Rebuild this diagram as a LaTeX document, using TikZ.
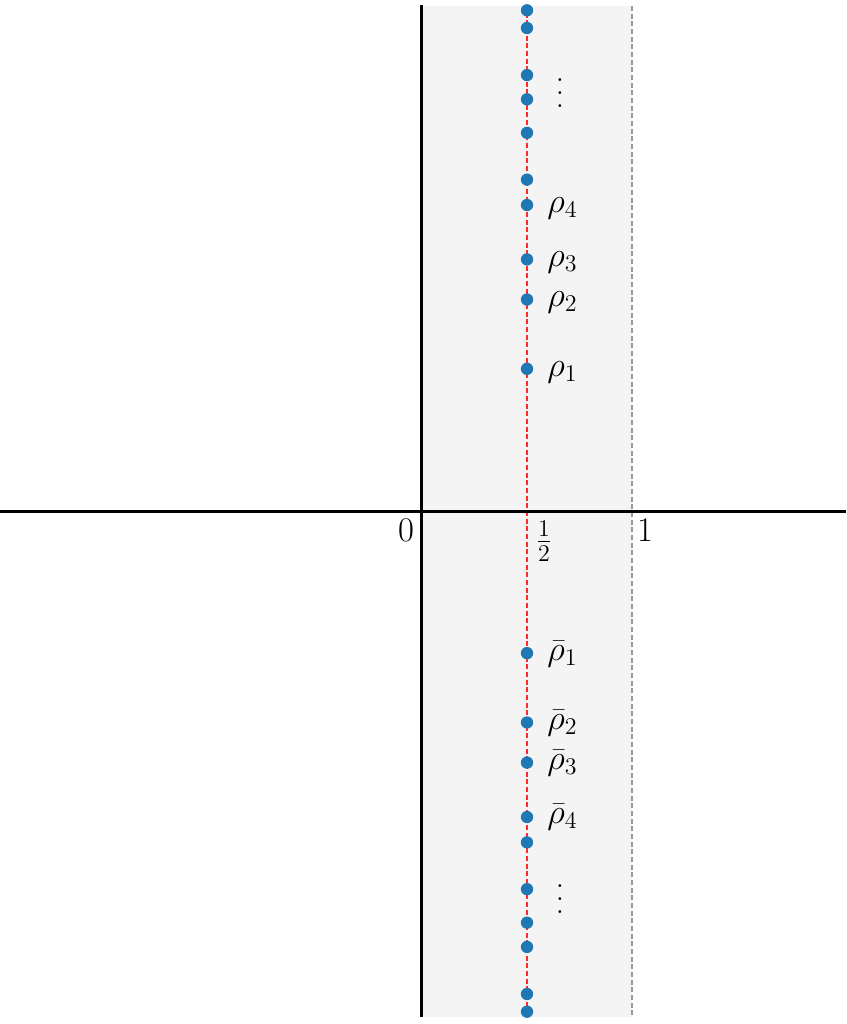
\documentclass[tikz,border=0pt]{standalone}
\usepackage{amsmath}
\definecolor{dotblue}{HTML}{1F77B4}
\definecolor{stripgray}{HTML}{F4F4F4}
\definecolor{redline}{HTML}{FF2A2A}
\definecolor{grayline}{HTML}{999999}
\newcommand{\bigvdots}{\vbox{\baselineskip7.8pt\lineskiplimit0pt\hbox{.}\hbox{.}\hbox{.}}}
\newcommand{\sd}[1]{\mbox{\Large #1}}
\tikzset{
  zero/.style={circle,fill=dotblue,inner sep=0pt,minimum size=7.4pt},
  lab/.style={anchor=base west,inner sep=0pt,font=\huge},
  axis/.style={line width=1.8pt,black},
  dashln/.style={line width=0.9pt,dash pattern=on 3pt off 1.6pt},
}
\begin{document}
\begin{tikzpicture}[x=0.6pt,y=-0.6pt]
\useasboundingbox (0,0) rectangle (846,1024);
% critical strip
\fill[stripgray] (421,6) rectangle (632,1017);
\draw[grayline,dashln] (632,6) -- (632,1017);
\draw[redline,dashln] (527,5) -- (527,1017);
% axes
\draw[axis] (0,511) -- (846,511);
\draw[axis] (421,5) -- (421,1017);
% zeros
\foreach \t [count=\i] in {14.13,21.02,25.01,30.42,32.94,37.59,40.92,43.33,48.01,49.77} {
  \node[zero] (u\i) at (527,{511-10.06*\t}) {};
  \node[zero] (d\i) at (527,{511+10.06*\t}) {};
}
% labels
\node[lab] (l1) at (547,376) {$\rho_{\sd{1}}$};
\node[lab] (l2) at (547,306) {$\rho_{\sd{2}}$};
\node[lab] (l3) at (547,266) {$\rho_{\sd{3}}$};
\node[lab] (l4) at (547,212) {$\rho_{\sd{4}}$};
\node[lab] (b1) at (547,660) {$\bar\rho_{\sd{1}}$};
\node[lab] (b2) at (547,729) {$\bar\rho_{\sd{2}}$};
\node[lab] (b3) at (547,769) {$\bar\rho_{\sd{3}}$};
\node[lab] (b4) at (547,823) {$\bar\rho_{\sd{4}}$};
\node[font=\huge,inner sep=0pt] (vu) at (560,93) {\bigvdots};
\node[font=\huge,inner sep=0pt] (vd) at (560,899) {\bigvdots};
\node[lab,anchor=base] (x0) at (406,541) {$0$};
\node[lab,anchor=base] (xh) at (544,550) {$\frac{\sd{1}}{\sd{2}}$};
\node[lab,anchor=base] (x1) at (645,541) {$1$};
\end{tikzpicture}
\end{document}
